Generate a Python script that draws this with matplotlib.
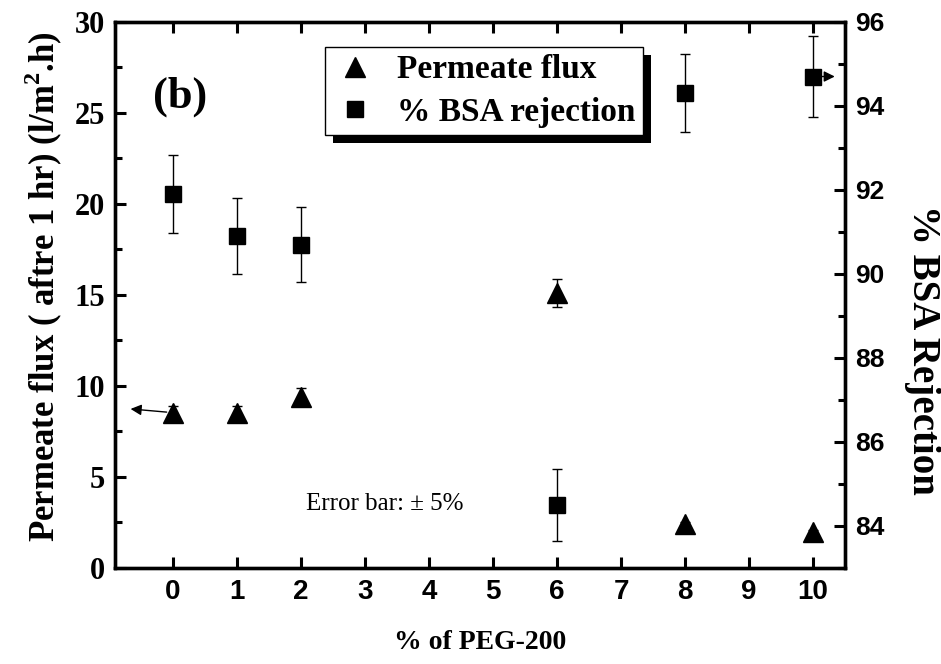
"""Permeate flux and BSA rejection against PEG-200 content (panel b)."""

import matplotlib
matplotlib.use("Agg")
import matplotlib.pyplot as plt
from matplotlib.lines import Line2D
from matplotlib.patches import Rectangle
from matplotlib.transforms import IdentityTransform

PEG = [0, 1, 2, 6, 8, 10]
FLUX = [8.5, 8.5, 9.4, 15.1, 2.4, 2.0]
BSA_REJ = [91.9, 90.9, 90.7, 84.5, 94.3, 94.7]
BSA_ERR = [0.92, 0.90, 0.90, 0.85, 0.93, 0.97]
FLUX_ERR = [v * 0.05 for v in FLUX]

SERIF = "Liberation Serif"
SANS = "Liberation Sans"

plt.rcParams["mathtext.fontset"] = "custom"
plt.rcParams["mathtext.bf"] = "Liberation Serif:bold"
plt.rcParams["mathtext.rm"] = "Liberation Serif"

fig = plt.figure(figsize=(9.41, 6.64), dpi=100)
ax = fig.add_axes([0.1222, 0.1446, 0.776, 0.8224])
ax2 = ax.twinx()

# flux on the left axis
ax.errorbar(PEG, FLUX, yerr=FLUX_ERR, fmt="^", color="black", ms=15,
            ecolor="black", elinewidth=1, capsize=3.5, capthick=1, zorder=3)
ax.set_xlim(-0.9, 10.5)
ax.set_ylim(0, 30)
ax.set_xticks(range(0, 11))
ax.set_yticks(range(0, 31, 5))
ax.set_yticks([2.5 + 5 * i for i in range(6)], minor=True)

# rejection on the right axis
ax2.errorbar(PEG, BSA_REJ, yerr=BSA_ERR, fmt="s", color="black", ms=12,
             ecolor="black", elinewidth=1, capsize=3.5, capthick=1, zorder=3)
ax2.set_ylim(83, 96)
ax2.set_yticks(range(84, 97, 2))
ax2.set_yticks(range(83, 97, 2), minor=True)

for a in (ax, ax2):
    for s in a.spines.values():
        s.set_linewidth(2.4)
ax.tick_params(axis="both", which="both", direction="in", width=2.2)
ax.tick_params(axis="both", which="major", length=8)
ax.tick_params(axis="y", which="minor", length=5)
ax.tick_params(axis="x", top=True, bottom=True, pad=8)
ax.tick_params(axis="y", right=False, pad=7)
ax2.tick_params(axis="y", which="both", direction="in", width=2.2, pad=7)
ax2.tick_params(axis="y", which="major", length=8)
ax2.tick_params(axis="y", which="minor", length=5)

for lbl in ax.get_xticklabels():
    lbl.set_fontfamily(SANS)
    lbl.set_fontweight("bold")
    lbl.set_fontsize(20)
for lbl in ax.get_yticklabels():
    lbl.set_fontfamily(SERIF)
    lbl.set_fontweight("bold")
    lbl.set_fontsize(22)
for lbl in ax2.get_yticklabels():
    lbl.set_fontfamily(SANS)
    lbl.set_fontweight("bold")
    lbl.set_fontsize(19)

ax.set_xlabel("% of PEG-200", fontfamily=SERIF, fontweight="bold",
              fontsize=20, labelpad=18)
ax.set_ylabel("Permeate flux ( aftre 1 hr) (l/m$^\\mathbf{2}$.h)",
              fontfamily=SERIF, fontweight="bold", fontsize=25)
ax.yaxis.set_label_coords(-0.068, 0.515)
ax2.set_ylabel("% BSA Rejection", fontfamily=SERIF, fontweight="bold",
               fontsize=28, rotation=270, va="baseline")
ax2.yaxis.set_label_coords(1.093, 0.400)

# arrows pointing to the axis each series belongs to
ax.annotate("", xy=(-0.7, 8.75), xytext=(-0.05, 8.55),
            arrowprops=dict(arrowstyle="-|>", color="black", lw=1,
                            mutation_scale=16))
ax2.annotate("", xy=(10.38, 94.7), xytext=(10.08, 94.7),
             arrowprops=dict(arrowstyle="-|>", color="black", lw=1,
                             mutation_scale=16))

ax.text(-0.3, 25.9, "(b)", fontfamily=SERIF, fontweight="bold", fontsize=32,
        va="center", ha="left")
ax.text(2.08, 3.5, "Error bar: \u00b1 5%", fontfamily=SERIF, fontsize=18,
        va="center", ha="left")

handles = [
    Line2D([], [], ls="none", marker="^", color="black", ms=15),
    Line2D([], [], ls="none", marker="s", color="black", ms=12),
]
leg = ax2.legend(handles, ["Permeate flux", "% BSA rejection"], loc="upper left",
                 bbox_to_anchor=(0.345, 0.929), bbox_transform=fig.transFigure,
                 borderaxespad=0, fancybox=False, edgecolor="black",
                 framealpha=1, handletextpad=0.55, borderpad=0.22,
                 labelspacing=0.35, handlelength=1.4,
                 prop=dict(family=SERIF, weight="bold", size=24))
leg.get_frame().set_linewidth(1)
leg.set_zorder(10)

fig.canvas.draw()
bb = leg.get_window_extent()
shadow = Rectangle((bb.x0 + 8, bb.y0 - 8), bb.width, bb.height,
                   transform=IdentityTransform(), facecolor="black",
                   edgecolor="none", zorder=9)
ax2.add_artist(shadow)

fig.savefig("out.png", dpi=100)
